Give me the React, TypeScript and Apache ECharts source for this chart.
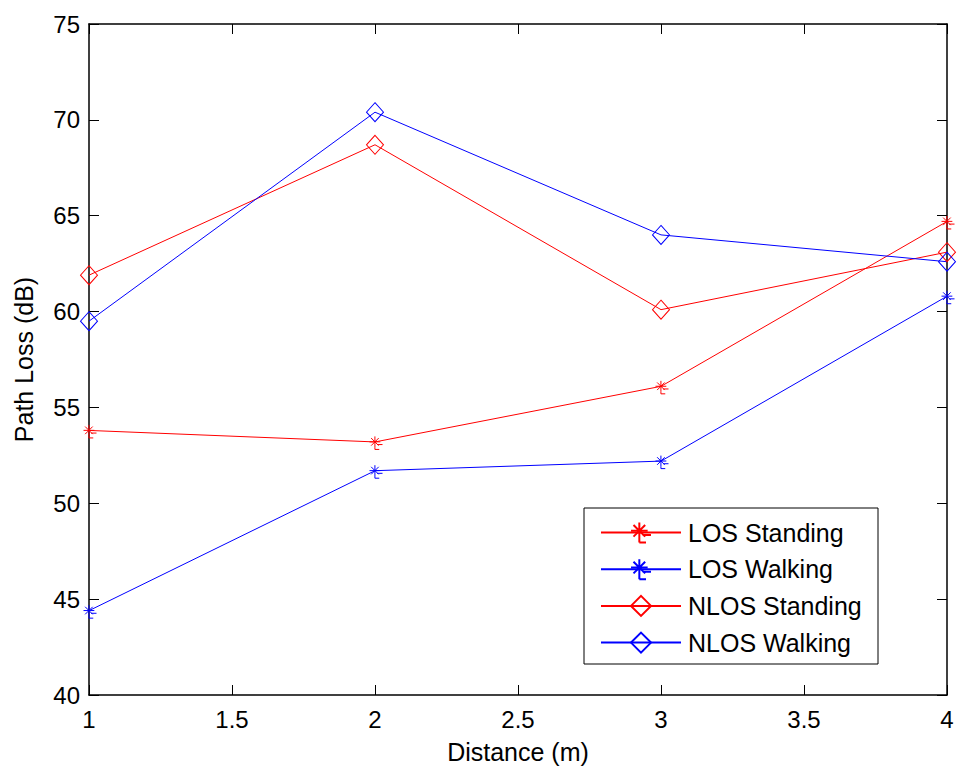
import React, { useEffect, useRef } from "react";
import * as echarts from "echarts";

const distances = [1, 2, 3, 4];
const losStanding = [53.8, 53.2, 56.1, 64.7];
const losWalking = [44.4, 51.7, 52.2, 60.8];
const nlosStanding = [61.9, 68.7, 60.1, 63.1];
const nlosWalking = [59.5, 70.4, 64.0, 62.6];
const seriesNames = ["LOS Standing", "LOS Walking", "NLOS Standing", "NLOS Walking"];

const FONT = "Liberation Sans, Arial, sans-serif";
const ASTERISK =
  "path://M0,-5 L0,5 M-5,0 L5,0 M-3.5,-3.5 L3.5,3.5 M-3.5,3.5 L3.5,-3.5 M2,2.5 L7,2.5 M0,7 L4,7 M0,5 L0,7";

function pts(vals: number[]) {
  return distances.map((d, i) => [d, vals[i]]);
}

export default function App() {
  const ref = useRef<HTMLDivElement>(null);
  useEffect(() => {
    const chart = echarts.init(ref.current!, undefined, { renderer: "svg" });
    const mk = (name: string, vals: number[], color: string, star: boolean) => ({
      name,
      type: "line",
      xAxisIndex: 0,
      yAxisIndex: 0,
      data: pts(vals),
      symbol: star ? ASTERISK : "diamond",
      symbolSize: star ? [13, 13] : [17, 19],
      symbolOffset: star ? [1, 1] : [0, 0],
      showAllSymbol: true,
      lineStyle: { color, width: 1 },
      itemStyle: { color: "none", borderColor: color, borderWidth: 1 },
      emphasis: { disabled: true },
    });
    const tickStyle = { lineStyle: { color: "#000", width: 1 } };
    chart.setOption({
      animation: false,
      backgroundColor: "#fff",
      textStyle: { fontFamily: FONT },
      grid: { left: 89, top: 24, right: 10, bottom: 69, containLabel: false },
      graphic: [
        {
          type: "rect",
          z: 50,
          shape: { x: 584, y: 508, width: 294, height: 156 },
          style: { fill: "#fff", stroke: "#000", lineWidth: 1 },
        },
      ],
      legend: {
        z: 60,
        orient: "vertical",
        left: 584,
        top: 508,
        padding: [12, 10, 10, 16],
        itemWidth: 80,
        itemHeight: 25,
        itemGap: 11.7,
        data: seriesNames,
        textStyle: {
          fontSize: 25,
          lineHeight: 25,
          color: "#000",
          fontFamily: FONT,
          padding: [0, 0, 0, 2],
        },
        selectedMode: false,
      },
      xAxis: [
        {
          type: "value",
          min: 1,
          max: 4,
          interval: 0.5,
          position: "bottom",
          name: "Distance (m)",
          nameLocation: "middle",
          nameGap: 44,
          nameTextStyle: { fontSize: 25, color: "#000", fontFamily: FONT },
          axisLine: { lineStyle: { color: "#000", width: 1.5 } },
          axisTick: { inside: true, length: 10, ...tickStyle },
          axisLabel: { fontSize: 24, color: "#000", margin: 12, fontFamily: FONT },
          splitLine: { show: false },
        },
        {
          type: "value",
          min: 1,
          max: 4,
          interval: 0.5,
          position: "top",
          axisLine: { lineStyle: { color: "#000", width: 1.5 } },
          axisTick: { inside: true, length: 10, ...tickStyle },
          axisLabel: { show: false },
          splitLine: { show: false },
        },
      ],
      yAxis: [
        {
          type: "value",
          min: 40,
          max: 75,
          interval: 5,
          position: "left",
          name: "Path Loss (dB)",
          nameLocation: "middle",
          nameGap: 53,
          nameTextStyle: { fontSize: 25, color: "#000", fontFamily: FONT },
          axisLine: { lineStyle: { color: "#000", width: 1.5 } },
          axisTick: { inside: true, length: 10, ...tickStyle },
          axisLabel: { fontSize: 24, color: "#000", margin: 9, fontFamily: FONT },
          splitLine: { show: false },
        },
        {
          type: "value",
          min: 40,
          max: 75,
          interval: 5,
          position: "right",
          axisLine: { lineStyle: { color: "#000", width: 1.5 } },
          axisTick: { inside: true, length: 10, ...tickStyle },
          axisLabel: { show: false },
          splitLine: { show: false },
        },
      ],
      series: [
        mk(seriesNames[0], losStanding, "#ff0000", true),
        mk(seriesNames[1], losWalking, "#0000ff", true),
        mk(seriesNames[2], nlosStanding, "#ff0000", false),
        mk(seriesNames[3], nlosWalking, "#0000ff", false),
      ],
    });
    return () => chart.dispose();
  }, []);
  return <div ref={ref} style={{ width: 957, height: 769, position: "absolute", left: 0, top: 0 }} />;
}
